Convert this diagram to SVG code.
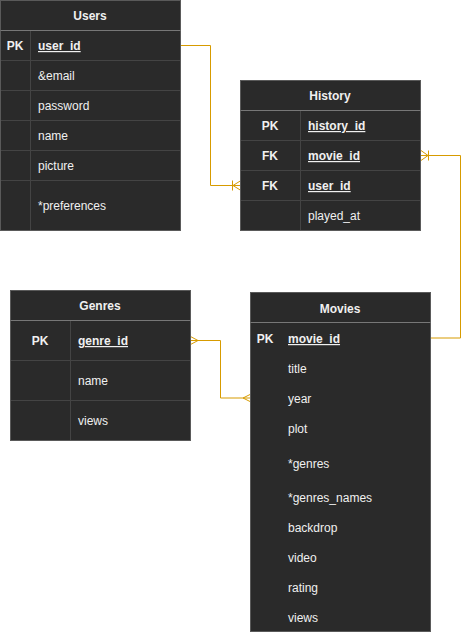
<svg xmlns="http://www.w3.org/2000/svg" width="469" height="632" viewBox="0 0 469 632">
<style>
.box{fill:#2a2a2a;stroke:#5a5a5a;stroke-width:1}
.sep{stroke:#444;stroke-width:1;fill:none}
.hd{stroke:#777;stroke-width:1}
text{font-family:"Liberation Sans",Arial,sans-serif;font-size:12px;fill:#f0f0f0}
.t{font-weight:bold;text-anchor:middle}
.k{font-weight:bold;text-anchor:middle}
.u{font-weight:bold;text-decoration:underline}
.c{stroke:#d79b00;stroke-width:1;fill:none}
</style>
<rect width="469" height="632" fill="#ffffff"/>
<g id="connectors">
<polyline class="c" points="180,45.5 210.5,45.5 210.5,185.5 241,185.5"/>
<path class="c" d="M233,185.5 L241,180.5 M233,185.5 L241,190.5 M232.5,180.5 L232.5,190.5"/>
<polyline class="c" points="430,338 460.5,338 460.5,155.5 420,155.5"/>
<path class="c" d="M428,155.5 L421,150.5 M428,155.5 L421,160.5 M428.5,150.5 L428.5,160.5"/>
<polyline class="c" points="190,340.5 220.5,340.5 220.5,398 251,398"/>
<path class="c" d="M198,340.5 L190.5,336.5 M198,340.5 L190.5,344.5"/>
<path class="c" d="M243,398 L251,394 M243,398 L251,402"/>
</g>
<g id="users">
<rect class="box" x="0.5" y="0.5" width="180" height="230"/>
<line class="hd" x1="0.5" y1="30.5" x2="180.5" y2="30.5"/>
<path class="sep" d="M1,60.5H180M1,90.5H180M1,120.5H180M1,150.5H180M1,180.5H180M30.5,31V230"/>
<text class="t" x="90" y="20">Users</text>
<text class="k" x="15" y="50">PK</text>
<text class="u" x="38" y="50">user_id</text>
<text x="38" y="80">&amp;email</text>
<text x="38" y="110">password</text>
<text x="38" y="140">name</text>
<text x="38" y="170">picture</text>
<text x="38" y="210">*preferences</text>
</g>
<g id="history">
<rect class="box" x="240.5" y="80.5" width="180" height="150"/>
<line class="hd" x1="240.5" y1="110.5" x2="420.5" y2="110.5"/>
<path class="sep" d="M241,140.5H420M241,170.5H420M241,200.5H420M300.5,111V230"/>
<text class="t" x="330" y="100">History</text>
<text class="k" x="270" y="130">PK</text>
<text class="u" x="308" y="130">history_id</text>
<text class="k" x="270" y="160">FK</text>
<text class="u" x="308" y="160">movie_id</text>
<text class="k" x="270" y="190">FK</text>
<text class="u" x="308" y="190">user_id</text>
<text x="308" y="220">played_at</text>
</g>
<g id="genres">
<rect class="box" x="10.5" y="290.5" width="180" height="150"/>
<line class="hd" x1="10.5" y1="320.5" x2="190.5" y2="320.5"/>
<path class="sep" d="M11,360.5H190M11,400.5H190M70.5,321V440"/>
<text class="t" x="100" y="310">Genres</text>
<text class="k" x="40" y="345">PK</text>
<text class="u" x="78" y="345">genre_id</text>
<text x="78" y="385">name</text>
<text x="78" y="425">views</text>
</g>
<g id="movies">
<rect class="box" x="250.5" y="292.5" width="180" height="339"/>
<line class="hd" x1="250.5" y1="322.5" x2="430.5" y2="322.5"/>
<text class="t" x="340" y="313">Movies</text>
<text class="k" x="265" y="343">PK</text>
<text class="u" x="288" y="343">movie_id</text>
<text x="288" y="373">title</text>
<text x="288" y="403">year</text>
<text x="288" y="433">plot</text>
<text x="288" y="468">*genres</text>
<text x="288" y="502">*genres_names</text>
<text x="288" y="532">backdrop</text>
<text x="288" y="562">video</text>
<text x="288" y="592">rating</text>
<text x="288" y="622">views</text>
</g>
</svg>
